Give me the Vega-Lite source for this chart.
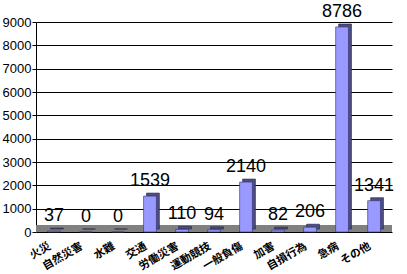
{
  "$schema": "https://vega.github.io/schema/vega-lite/v6.json",
  "autosize": "none",
  "width": 356,
  "height": 210,
  "padding": {"left": 36, "top": 22, "right": 15, "bottom": 42},
  "background": "white",
  "config": {"view": {"stroke": null}},
  "data": {"values": [
    {"cat": "火災", "n": 37},
    {"cat": "自然災害", "n": 0},
    {"cat": "水難", "n": 0},
    {"cat": "交通", "n": 1539},
    {"cat": "労働災害", "n": 110},
    {"cat": "運動競技", "n": 94},
    {"cat": "一般負傷", "n": 2140},
    {"cat": "加害", "n": 82},
    {"cat": "自損行為", "n": 206},
    {"cat": "急病", "n": 8786},
    {"cat": "その他", "n": 1341}
  ]},
  "encoding": {
    "x": {"field": "cat", "type": "nominal", "sort": null,
      "scale": {"paddingInner": 0.6, "paddingOuter": 0.36},
      "axis": {"title": null, "labelAngle": -30, "labelAlign": "right", "labelBaseline": "top",
        "labelFont": "Noto Sans CJK JP", "labelFontSize": 11, "labelFontWeight": "bold", "labelColor": "black",
        "labelOffset": -7, "labelPadding": 8, "labelOverlap": false, "domain": false, "ticks": false}},
    "y": {"field": "n", "type": "quantitative",
      "scale": {"domain": [0, 9000], "nice": false},
      "axis": {"title": null, "values": [0,1000,2000,3000,4000,5000,6000,7000,8000,9000],
        "format": "d", "labelOverlap": false,
        "grid": true, "gridColor": "black", "gridOpacity": 1, "gridWidth": 1,
        "domainColor": "black", "tickColor": "black", "tickSize": 4,
        "labelFont": "Liberation Sans", "labelFontSize": 13, "labelColor": "black", "labelPadding": 1}}
  },
  "layer": [
    {
      "mark": {"type": "rect", "color": "#808080"},
      "encoding": {"x": null, "y": {"datum": 0, "type": "quantitative"}, "y2": {"datum": 300}}
    },
    {
      "mark": {"type": "bar", "color": "#4d4d80", "xOffset": 3, "yOffset": -3, "stroke": "#222244", "strokeWidth": 0.6}
    },
    {
      "mark": {"type": "bar", "color": "#9999ff", "stroke": "#333366", "strokeWidth": 0.6}
    },
    {
      "mark": {"type": "text", "font": "Liberation Sans", "fontSize": 18, "color": "black", "baseline": "bottom", "dy": -6},
      "encoding": {"text": {"field": "n", "type": "quantitative"}}
    }
  ]
}
